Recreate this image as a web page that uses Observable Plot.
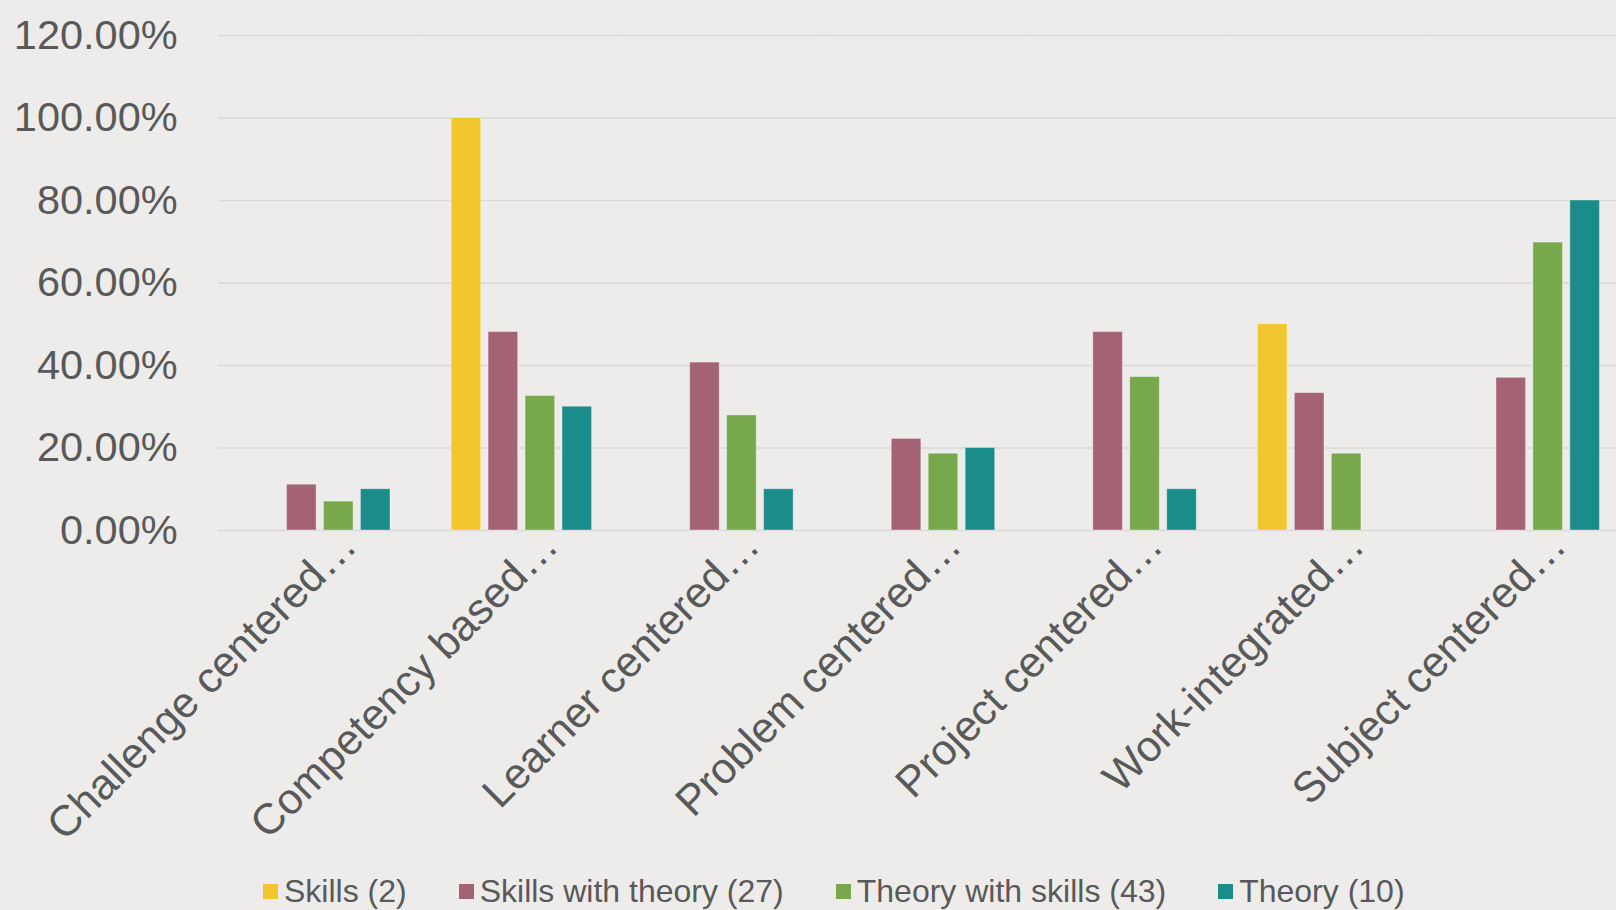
<!DOCTYPE html>
<html><head><meta charset="utf-8">
<script src="https://cdn.jsdelivr.net/npm/d3@7"></script>
<script src="https://cdn.jsdelivr.net/npm/@observablehq/plot@0.6"></script>
<style>
html,body{margin:0;padding:0;background:#EDECEA;overflow:hidden;width:1616px;height:910px;font-family:"Liberation Sans",Arial,sans-serif}
#chart{width:1632px;height:870px;overflow:visible}
#chart svg{display:block;max-width:none !important;width:1632px !important;height:870px !important}
#legend{margin-top:3px;padding-left:263px;height:37px;line-height:37px;font-size:32px;color:#595959;white-space:nowrap;display:flex;align-items:center}
#legend .item{display:flex;align-items:center;margin-right:52px}
#legend .sw{width:15px;height:15px;margin-right:6px;display:inline-block}
</style></head><body>
<div id="chart"></div>
<div id="legend"></div>
<script>
const categories = ["Challenge centered…","Competency based…","Learner centered…","Problem centered…","Project centered…","Work-integrated…","Subject centered…"];
const series = ["Skills (2)","Skills with theory (27)","Theory with skills (43)","Theory (10)"];
const colors = ["#F2C62F","#A46275","#77A84C","#1A8C8A"];
const skills           = [0,     1.000, 0,     0,     0,     0.500, 0];
const skillsWithTheory = [0.111, 0.481, 0.407, 0.222, 0.481, 0.333, 0.370];
const theoryWithSkills = [0.070, 0.326, 0.279, 0.186, 0.372, 0.186, 0.698];
const theory           = [0.100, 0.300, 0.100, 0.200, 0.100, 0,     0.800];
const yTicks = [0, 0.2, 0.4, 0.6, 0.8, 1.0, 1.2];

const seriesValues = [skills, skillsWithTheory, theoryWithSkills, theory];
const data = [];
categories.forEach((c, i) => {
  series.forEach((s, j) => data.push({category: c, series: s, value: seriesValues[j][i]}));
});

const textColor = "#595959";
const chart = Plot.plot({
  width: 1632,
  height: 870,
  marginLeft: 219,
  marginRight: 2,
  marginTop: 35,
  marginBottom: 340,
  style: {background: "transparent", fontFamily: "'Liberation Sans', Arial, sans-serif", color: textColor, maxWidth: "none"},
  fx: {domain: categories, paddingInner: 0.23, paddingOuter: 0.115, round: false, axis: null, label: null},
  x: {domain: series, padding: 0.2, round: false, axis: null, label: null},
  y: {domain: [0, 1.2], label: null},
  color: {domain: series, range: colors},
  marks: [
    Plot.ruleY(yTicks, {stroke: "#D9D9D9", strokeWidth: 1.6, insetLeft: -24, insetRight: -24}),
    Plot.barY(data, {fx: "category", x: "series", y: "value", fill: "series",
      filter: d => d.value > 0, stroke: "#ffffff", strokeOpacity: 0.35, strokeWidth: 1}),
    Plot.axisY({ticks: yTicks, tickFormat: d => (d * 100).toFixed(2) + "%", tickSize: 0, tickPadding: 65,
      fontSize: 41.5, fill: textColor, label: null}),
    Plot.text(categories, {fx: d => d, text: d => d, frameAnchor: "bottom", rotate: -45,
      textAnchor: "end", lineAnchor: "top", fontSize: 43, fill: textColor, dx: 17, dy: -4})
  ]
});
document.getElementById("chart").appendChild(chart);

const legend = document.getElementById("legend");
series.forEach((s, j) => {
  const item = document.createElement("span");
  item.className = "item";
  const sw = document.createElement("span");
  sw.className = "sw";
  sw.style.background = colors[j];
  const t = document.createElement("span");
  t.textContent = s;
  item.appendChild(sw);
  item.appendChild(t);
  legend.appendChild(item);
});
</script>
</body></html>
